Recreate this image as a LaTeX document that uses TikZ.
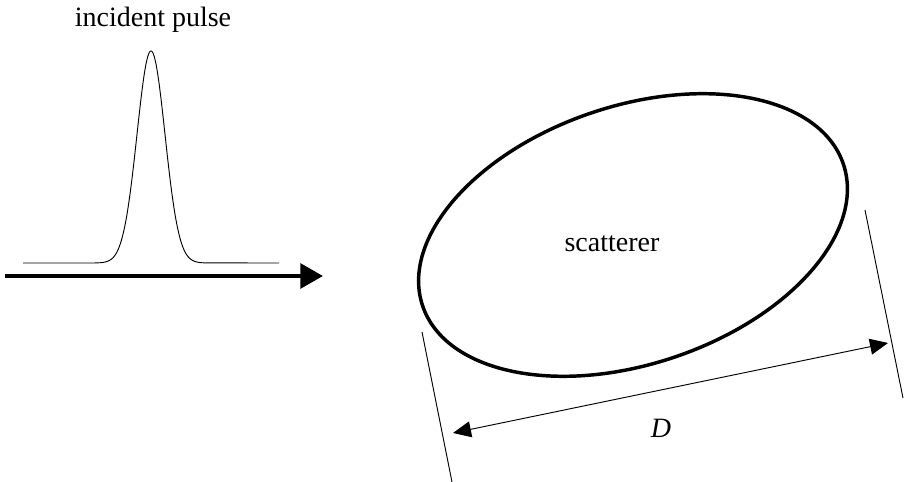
\documentclass[tikz,border=0pt]{standalone}
\usepackage{fontspec}
\setmainfont{Liberation Serif}
\usetikzlibrary{arrows.meta}
\begin{document}
\begin{tikzpicture}[x=0.75pt,y=0.75pt,
  lbl/.style={inner sep=0pt,font=\fontsize{21}{24}\selectfont},
  thinln/.style={line width=0.7pt},
  ellln/.style={line width=2.6pt},
  arrln/.style={line width=3pt},
  bigarrow/.style={-{Triangle[length=17pt,width=18.5pt]}},
  dimarrow/.style={{Triangle[length=13.5pt,width=12pt]}-{Triangle[length=13.5pt,width=12pt]}}]
\useasboundingbox (0,0) rectangle (908,482);
% incident pulse
\node[lbl,anchor=base] (title) at (153,455) {incident pulse};
\draw[thinln,line join=round] (23,219) -- (95,219)
  -- plot[domain=95:207,samples=160] (\x,{219+212*exp(-((\x-151)/14)^2/2)})
  -- (279,219);
% propagation arrow
\coordinate (a0) at (5,206);
\coordinate (a1) at (323,206);
\draw[arrln,bigarrow] (a0) -- (a1);
% scatterer
\draw[ellln] (633,247) ellipse[x radius=222,y radius=129,rotate=18.6];
\node[lbl,anchor=base] (scat) at (612,230) {scatterer};
% tangent lines
\coordinate (l0) at (422,150);
\coordinate (l1) at (452,0);
\coordinate (r0) at (865,272);
\coordinate (r1) at (903,84);
\draw[thinln] (l0) -- (l1);
\draw[thinln] (r0) -- (r1);
% dimension arrow
\coordinate (dL) at (453,49);
\coordinate (dR) at (888,139);
\draw[thinln,dimarrow] (dL) -- (dR);
\node[lbl,anchor=base] (D) at (661,44) {\textit{D}};
\end{tikzpicture}
\end{document}
